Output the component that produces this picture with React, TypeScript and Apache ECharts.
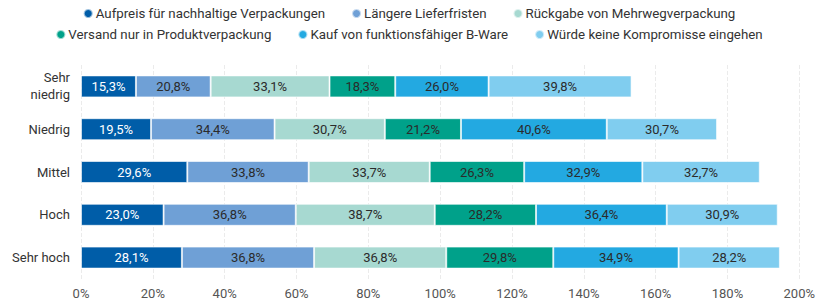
import React, { useEffect, useRef } from "react";
import * as echarts from "echarts";

const categories = ["Sehr\nniedrig", "Niedrig", "Mittel", "Hoch", "Sehr hoch"];
const seriesNames = [
  "Aufpreis für nachhaltige Verpackungen",
  "Längere Lieferfristen",
  "Rückgabe von Mehrwegverpackung",
  "Versand nur in Produktverpackung",
  "Kauf von funktionsfähiger B-Ware",
  "Würde keine Kompromisse eingehen",
];
const aufpreis = [15.3, 19.5, 29.6, 23.0, 28.1];
const laengere = [20.8, 34.4, 33.8, 36.8, 36.8];
const rueckgabe = [33.1, 30.7, 33.7, 38.7, 36.8];
const versand = [18.3, 21.2, 26.3, 28.2, 29.8];
const kauf = [26.0, 40.6, 32.9, 36.4, 34.9];
const wuerde = [39.8, 30.7, 32.7, 30.9, 28.2];
const seriesValues = [aufpreis, laengere, rueckgabe, versand, kauf, wuerde];
const colors = ["#005da8", "#6fa0d6", "#a7d9d1", "#00a18a", "#23a9e1", "#80cdef"];
const labelColors = ["#ffffff", "#2b2b2b", "#2b2b2b", "#2b2b2b", "#2b2b2b", "#2b2b2b"];

export default function App() {
  const ref = useRef<HTMLDivElement>(null);
  useEffect(() => {
    document.body.style.margin = "0";
    document.body.style.overflow = "hidden";
    if (!ref.current) return;
    const chart = echarts.init(ref.current, null, { renderer: "svg" });
    const font = "Roboto";
    const legendBase = {
      left: "center",
      icon: "circle",
      itemWidth: 9,
      itemHeight: 9,
      itemGap: 26,
      textStyle: { fontFamily: font, fontSize: 13.3, color: "#333", padding: [0, 0, 0, -2] },
    };
    chart.setOption({
      animation: false,
      color: colors,
      textStyle: { fontFamily: font },
      legend: [
        { ...legendBase, data: seriesNames.slice(0, 3), top: 2 },
        { ...legendBase, data: seriesNames.slice(3), top: 23 },
      ],
      grid: { left: 81, right: 17, top: 65, bottom: 22, containLabel: false },
      xAxis: {
        type: "value",
        min: 0,
        max: 200,
        interval: 20,
        axisLabel: {
          formatter: "{value}%",
          fontFamily: font,
          fontSize: 13,
          color: "#555",
          margin: 8,
        },
        splitLine: { lineStyle: { color: "#ebebeb", type: "dashed" } },
        axisLine: { show: false },
        axisTick: { show: false },
      },
      yAxis: {
        type: "category",
        inverse: true,
        data: categories,
        axisLabel: {
          fontFamily: font,
          fontSize: 13,
          color: "#333",
          lineHeight: 17,
          margin: 11,
        },
        axisLine: { show: false },
        axisTick: { show: false },
      },
      series: seriesValues.map((vals, i) => ({
        name: seriesNames[i],
        type: "bar",
        stack: "total",
        data: vals,
        barWidth: 22,
        itemStyle: { borderColor: "rgba(255,255,255,0.6)", borderWidth: 1 },
        label: {
          show: true,
          position: "inside",
          fontFamily: font,
          fontSize: 13,
          color: labelColors[i],
          formatter: (p: any) => p.value.toFixed(1).replace(".", ",") + "%",
        },
      })),
    });
    return () => chart.dispose();
  }, []);
  return <div ref={ref} style={{ width: 818, height: 301 }} />;
}
